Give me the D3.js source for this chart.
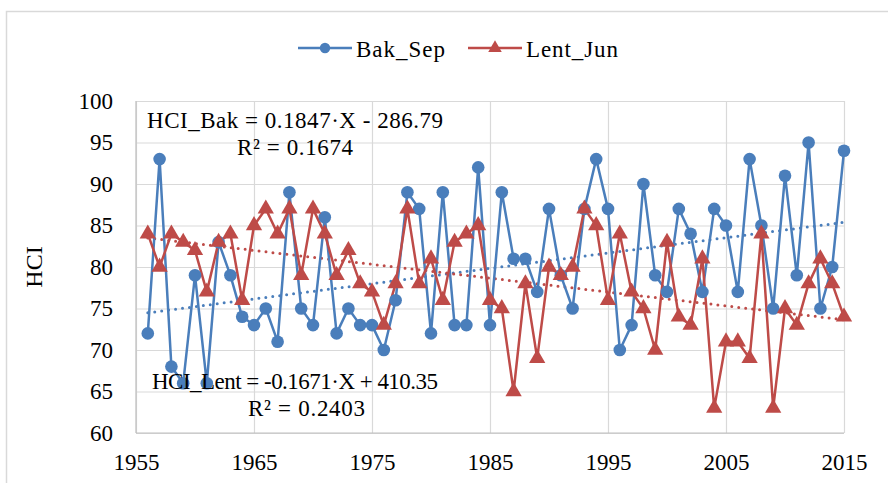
<!DOCTYPE html>
<html lang="en">
<head>
  <meta charset="UTF-8">
  <title>HCI Bak_Sep vs Lent_Jun</title>
  <script src="https://d3js.org/d3.v7.min.js"></script>
  <style>
    body {
      margin: 0;
      background: white;
    }
    svg {
      display: block;
    }
    svg text {
      font-family: "Liberation Serif", "Times New Roman", serif;
      fill: #000;
    }
  </style>
</head>
<body>
<svg width="888" height="483"></svg>

<script>
  // years on the x axis
  const years = [1956, 1957, 1958, 1959, 1960, 1961, 1962, 1963, 1964, 1965,
    1966, 1967, 1968, 1969, 1970, 1971, 1972, 1973, 1974, 1975,
    1976, 1977, 1978, 1979, 1980, 1981, 1982, 1983, 1984, 1985,
    1986, 1987, 1988, 1989, 1990, 1991, 1992, 1993, 1994, 1995,
    1996, 1997, 1998, 1999, 2000, 2001, 2002, 2003, 2004, 2005,
    2006, 2007, 2008, 2009, 2010, 2011, 2012, 2013, 2014, 2015];

  const bakSep = [72, 93, 68, 66, 79, 66, 83, 79, 74, 73,
    75, 71, 89, 75, 73, 86, 72, 75, 73, 73,
    70, 76, 89, 87, 72, 89, 73, 73, 92, 73,
    89, 81, 81, 77, 87, 79, 75, 87, 93, 87,
    70, 73, 90, 79, 77, 87, 84, 77, 87, 85,
    77, 93, 85, 75, 91, 79, 95, 75, 80, 94];

  const lentJun = [84, 80, 84, 83, 82, 77, 83, 84, 76, 85,
    87, 84, 87, 79, 87, 84, 79, 82, 78, 77,
    73, 78, 87, 78, 81, 76, 83, 84, 85, 76,
    75, 65, 78, 69, 80, 79, 80, 87, 85, 76,
    84, 77, 75, 70, 83, 74, 73, 81, 63, 71,
    71, 69, 84, 63, 75, 73, 78, 81, 78, 74];

  // trend line coefficients as printed on the chart
  const bakTrend = {slope: 0.1847, intercept: -286.79};
  const lentTrend = {slope: -0.1671, intercept: 410.35};

  const xTicks = [1955, 1965, 1975, 1985, 1995, 2005, 2015];
  const yTicks = [60, 65, 70, 75, 80, 85, 90, 95, 100];

  const blue = "#4a7ebb";
  const red = "#be4b48";
  const grid = "#d9d9d9";
  const serif = "'Liberation Serif', 'Times New Roman', serif";

  const svg = d3.select("svg");

  const plotL = 136, plotR = 844, plotT = 101, plotB = 433;

  const x = d3.scaleLinear().domain([1955, 2015]).range([plotL, plotR]);
  const y = d3.scaleLinear().domain([60, 100]).range([plotB, plotT]);

  // outer chart border (right and bottom edges fall off the page)
  svg.append("rect")
    .attr("x", 6.5).attr("y", 11.5)
    .attr("width", 900).attr("height", 490)
    .attr("fill", "white")
    .attr("stroke", grid)
    .attr("stroke-width", 1.5);

  // horizontal grid
  svg.append("g")
    .attr("transform", `translate(${plotL},0)`)
    .call(d3.axisLeft(y).tickValues(yTicks).tickSize(-(plotR - plotL)).tickFormat(""))
    .call(g => g.select(".domain").remove())
    .call(g => g.selectAll("line").attr("stroke", grid).attr("stroke-width", 1.2));

  // vertical grid
  svg.append("g")
    .attr("transform", `translate(0,${plotB})`)
    .call(d3.axisBottom(x).tickValues(xTicks).tickSize(-(plotB - plotT)).tickFormat(""))
    .call(g => g.select(".domain").remove())
    .call(g => g.selectAll("line").attr("stroke", grid).attr("stroke-width", 1.2));

  // axis lines
  svg.append("line")
    .attr("x1", plotL).attr("x2", plotL).attr("y1", plotT).attr("y2", plotB)
    .attr("stroke", "#bfbfbf").attr("stroke-width", 1.2);
  svg.append("line")
    .attr("x1", plotL).attr("x2", plotR).attr("y1", plotB).attr("y2", plotB)
    .attr("stroke", "#bfbfbf").attr("stroke-width", 1.2);

  // tick labels
  svg.append("g")
    .attr("transform", `translate(${plotL},0)`)
    .call(d3.axisLeft(y).tickValues(yTicks).tickSize(0).tickPadding(23))
    .call(g => g.select(".domain").remove())
    .call(g => g.selectAll("text")
      .style("font-family", serif)
      .style("font-size", "23px")
      .style("fill", "#000"));

  svg.append("g")
    .attr("transform", `translate(0,${plotB})`)
    .call(d3.axisBottom(x).tickValues(xTicks).tickSize(0).tickPadding(21).tickFormat(d3.format("d")))
    .call(g => g.select(".domain").remove())
    .call(g => g.selectAll("text")
      .style("font-family", serif)
      .style("font-size", "23px")
      .style("fill", "#000"));

  // y axis title
  svg.append("text")
    .attr("transform", `translate(42,${(plotT + plotB) / 2}) rotate(-90)`)
    .attr("text-anchor", "middle")
    .style("font-family", serif)
    .style("font-size", "24px")
    .text("HCI");

  // trend lines (dotted)
  const trends = [
    {coef: bakTrend, color: blue},
    {coef: lentTrend, color: red}
  ];
  trends.forEach(t => {
    const x0 = years[0], x1 = years[years.length - 1];
    svg.append("line")
      .attr("x1", x(x0)).attr("y1", y(t.coef.slope * x0 + t.coef.intercept))
      .attr("x2", x(x1)).attr("y2", y(t.coef.slope * x1 + t.coef.intercept))
      .attr("stroke", t.color)
      .attr("stroke-width", 3)
      .attr("stroke-linecap", "round")
      .attr("stroke-dasharray", "0,7");
  });

  const line = d3.line()
    .x((d, i) => x(years[i]))
    .y(d => y(d));

  const circle = d3.symbol().type(d3.symbolCircle).size(125);
  const triangle = d3.symbol().type(d3.symbolTriangle).size(115);

  // Bak_Sep
  svg.append("path")
    .datum(bakSep)
    .attr("d", line)
    .attr("fill", "none")
    .attr("stroke", blue)
    .attr("stroke-width", 2.5)
    .attr("stroke-linejoin", "round");

  // Lent_Jun
  svg.append("path")
    .datum(lentJun)
    .attr("d", line)
    .attr("fill", "none")
    .attr("stroke", red)
    .attr("stroke-width", 2.5)
    .attr("stroke-linejoin", "round");

  svg.append("g")
    .selectAll("path")
    .data(bakSep)
    .join("path")
    .attr("transform", (d, i) => `translate(${x(years[i])},${y(d)})`)
    .attr("d", circle)
    .attr("fill", blue);

  svg.append("g")
    .selectAll("path")
    .data(lentJun)
    .join("path")
    .attr("transform", (d, i) => `translate(${x(years[i])},${y(d)})`)
    .attr("d", triangle)
    .attr("fill", red);

  // equations
  const eq = svg.append("g");
  const eqText = (tx, ty, len, str) => eq.append("text")
    .attr("x", tx).attr("y", ty)
    .attr("textLength", len).attr("lengthAdjust", "spacing")
    .style("font-family", serif)
    .style("font-size", "23px")
    .text(str);
  eqText(147, 128, 296, "HCI_Bak = 0.1847·X - 286.79");
  eqText(237, 155, 116, "R² = 0.1674");
  eqText(152, 389, 286, "HCI_Lent = -0.1671·X + 410.35");
  eqText(248, 416, 117, "R² = 0.2403");

  // legend
  const legend = svg.append("g");
  const legendItems = [
    {name: "Bak_Sep", color: blue, x0: 298, len: 89},
    {name: "Lent_Jun", color: red, x0: 468, len: 92}
  ];
  const legCircle = d3.symbol().type(d3.symbolCircle).size(85);
  const legTriangle = d3.symbol().type(d3.symbolTriangle).size(80);
  legendItems.forEach((it, i) => {
    legend.append("line")
      .attr("x1", it.x0).attr("x2", it.x0 + 54)
      .attr("y1", 48).attr("y2", 48)
      .attr("stroke", it.color).attr("stroke-width", 2.5);
    legend.append("path")
      .attr("transform", `translate(${it.x0 + 27},48)`)
      .attr("d", i === 0 ? legCircle : legTriangle)
      .attr("fill", it.color);
    legend.append("text")
      .attr("x", it.x0 + 58).attr("y", 57)
      .attr("textLength", it.len).attr("lengthAdjust", "spacing")
      .style("font-family", serif)
      .style("font-size", "23px")
      .text(it.name);
  });
</script>

</body>
</html>
